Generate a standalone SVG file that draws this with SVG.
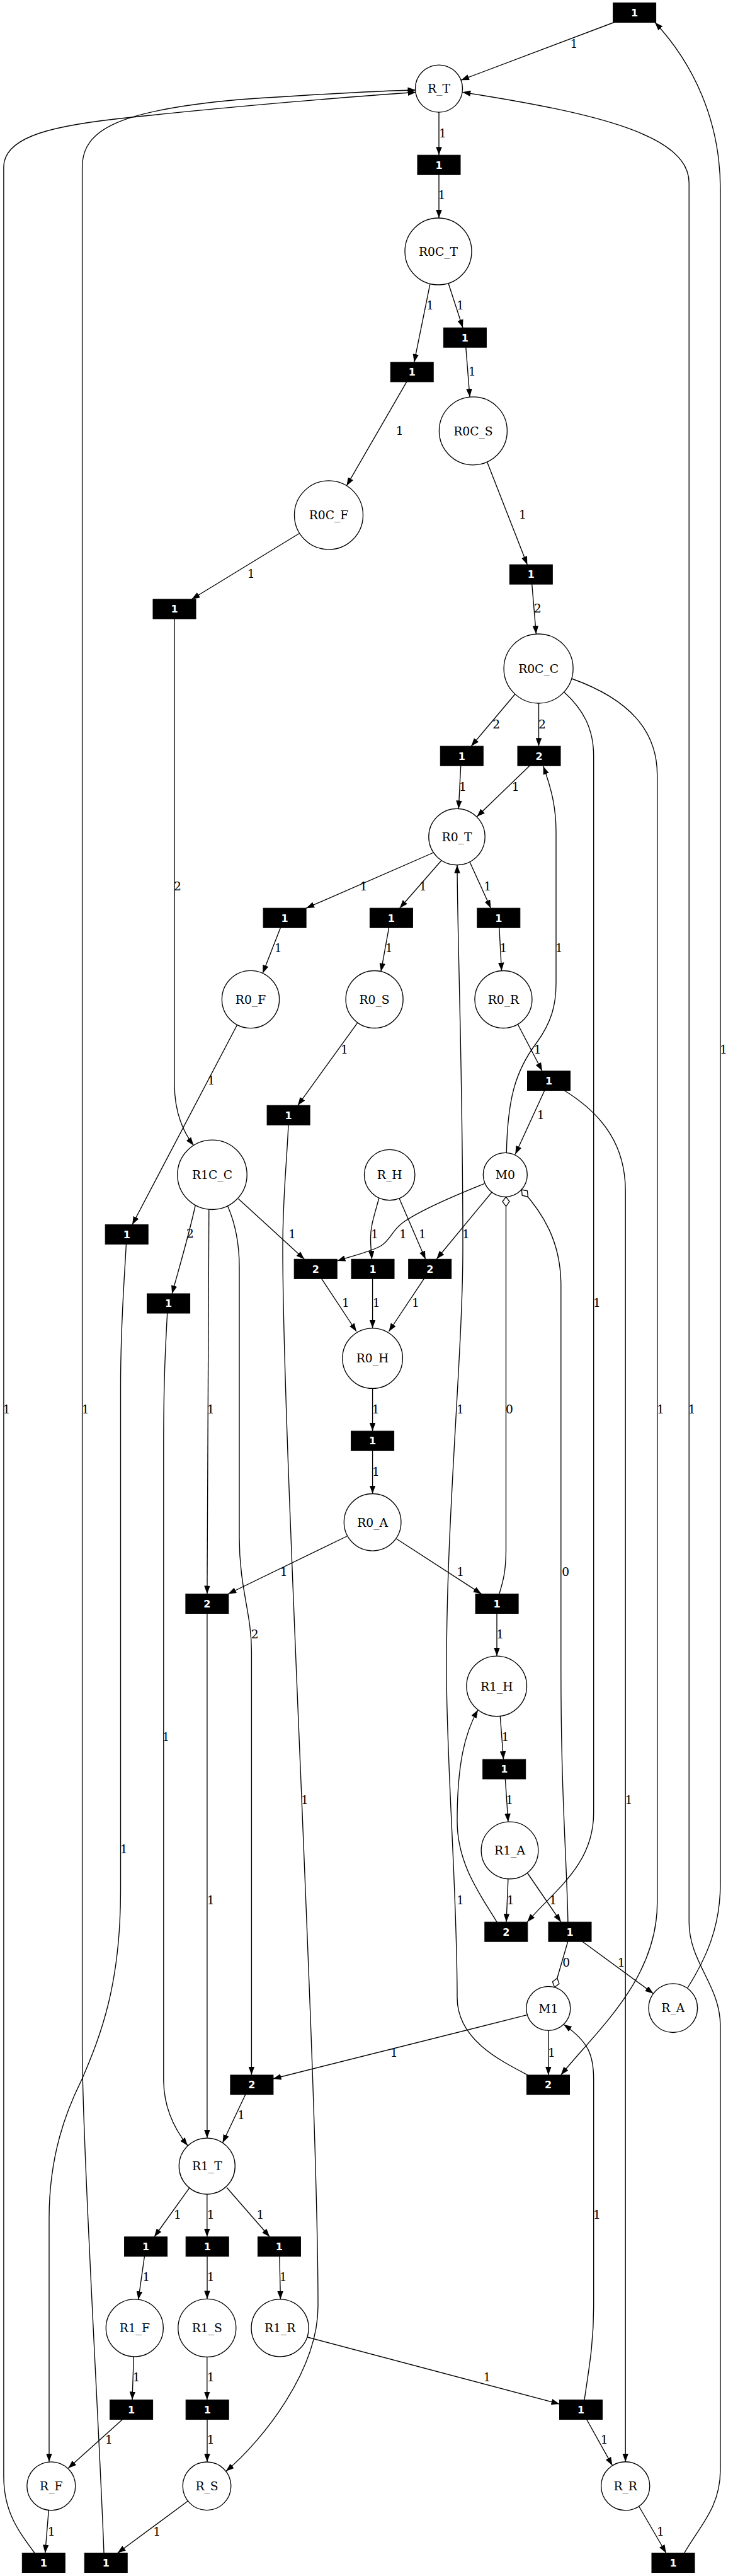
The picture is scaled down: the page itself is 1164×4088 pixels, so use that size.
<svg xmlns="http://www.w3.org/2000/svg" width="1164" height="4088" viewBox="0 0 1164 4088">
<style>
.e{fill:none;stroke:#000;stroke-width:1.35;marker-end:url(#ah)}
.i{fill:none;stroke:#000;stroke-width:1.35;marker-start:url(#dm)}
.p circle{fill:#fff;stroke:#000;stroke-width:1.35}
.p text{font-family:"DejaVu Serif","Liberation Serif",serif;font-size:18.7px;text-anchor:middle;fill:#000}
.t rect{fill:#000;stroke:#000;stroke-width:1}
.t text{font-family:"DejaVu Sans","Liberation Sans",sans-serif;font-weight:bold;font-size:16px;fill:#fff;text-anchor:middle}
.l{font-family:"DejaVu Serif","Liberation Serif",serif;font-size:18.7px;text-anchor:middle;fill:#000}
</style>
<defs>
<marker id="ah" viewBox="0 0 13 9.5" refX="13" refY="4.75" markerWidth="13" markerHeight="9.5" orient="auto" markerUnits="userSpaceOnUse"><path d="M0,0 L13,4.75 L0,9.5 z" fill="#000"/></marker>
<marker id="dm" viewBox="-1 -1 17 13" refX="0" refY="5.5" markerWidth="17" markerHeight="13" orient="auto" markerUnits="userSpaceOnUse"><path d="M0,5.5 L7.5,0 L15,5.5 L7.5,11 z" fill="#fff" stroke="#000" stroke-width="1.3"/></marker>
</defs>
<rect width="1164" height="4088" fill="#fff"/>
<g id="connectors">
<path class="e" d="M975,35.5 L732,127.2"/>
<path class="e" d="M697,178.1 L697,246.2"/>
<path class="e" d="M697,277.2 L697,346"/>
<path class="e" d="M712,449.5 L735,520.2"/>
<path class="e" d="M683,450.3 L657.7,574.9"/>
<path class="e" d="M739.8,551.2 L746,630"/>
<path class="e" d="M645.8,605.9 L550.4,770.9"/>
<path class="e" d="M475.3,846.5 L304.3,951"/>
<path class="e" d="M773.5,733 L837.3,896.1"/>
<path class="e" d="M844.7,927.1 L851.4,1006.1"/>
<path class="e" d="M818,1101.5 L748.2,1184.2"/>
<path class="e" d="M855.5,1116 L855.5,1184.2"/>
<path class="e" d="M896,1098.5 C925,1125 942.7,1155 942.7,1200 L942.7,2877 C942.7,2960 880,3000 837.3,3050.2"/>
<path class="e" d="M908,1077 C1000,1110 1043.7,1160 1043.7,1230 L1043.7,3020 C1043.7,3140 950,3220 890.8,3292.8"/>
<path class="e" d="M731.7,1215.2 L728.3,1283.4"/>
<path class="e" d="M841,1215.2 L757.3,1296"/>
<path class="e" d="M804.3,1829.3 C806,1745 818,1700 852,1655 C876,1622 883,1595 883,1560 L883,1320 C883,1280 875,1250 862.7,1216"/>
<path class="e" d="M838,3293 C790,3268 726,3235 726,3170 C726,3000 709,2800 709,2650 C709,2400 735,2150 735,1980 C735,1700 726.5,1500 726,1372.7"/>
<path class="e" d="M789,3050.2 C765,3010 726,2960 726,2890 C726,2800 738,2750 759,2713.5"/>
<path class="e" d="M870.8,3222.3 L870.8,3292.9"/>
<path class="e" d="M769.3,1878.3 C720,1898 665,1922 640,1940 C622,1953 620,1968 605,1977 C590,1986 560,1993 535.5,2001"/>
<path class="e" d="M781,1892 L693.3,1998"/>
<path class="e" d="M378.6,1902.6 L483.3,1998.3"/>
<path class="e" d="M601.7,1902 C594,1930 588.5,1945 588.5,1965 C588.5,1980 590,1990 590.5,1998.3"/>
<path class="e" d="M634,1901.7 L675.7,1998.3"/>
<path class="e" d="M310.3,1912.5 C300,1960 285,2010 273.2,2053"/>
<path class="e" d="M331.8,1919.3 L328.9,2529.5"/>
<path class="e" d="M361.5,1913.8 C375,1945 380,1975 380,2010 L380,2440 C380,2520 399.4,2560 399.4,2620 L399.4,3292.8"/>
<path class="e" d="M277,982 L277,1720 C277,1765 290,1795 307.4,1817.7"/>
<path class="e" d="M688.5,1353 L486.2,1441.2"/>
<path class="e" d="M701,1365.5 L634.7,1441.2"/>
<path class="e" d="M746,1368 L779.4,1441.2"/>
<path class="e" d="M445.4,1472.2 L417.2,1544.6"/>
<path class="e" d="M617.6,1472.2 L605,1541.7"/>
<path class="e" d="M792.8,1472.2 L796.5,1540.6"/>
<path class="e" d="M376.7,1626.3 L210,1943.5"/>
<path class="e" d="M567.9,1622.8 L472.8,1754.3"/>
<path class="e" d="M822.5,1626 L861,1699.5"/>
<path class="e" d="M864.8,1730.5 L818.3,1831.7"/>
<path class="e" d="M896,1730.5 C960,1770 993.2,1820 993.2,1890 L993.2,3906.7"/>
<path class="e" d="M458,1785.3 C455,1850 449,1900 449,1980 C449,2300 505,3300 505,3660 C505,3760 420,3870 358.8,3921.8"/>
<path class="i" d="M803.5,1899.3 L803.5,2460 C803.5,2495 798,2512 792.8,2529.5"/>
<path class="i" d="M828.3,1888 C862,1925 890.8,1970 890.8,2040 L890.8,2650 C890.8,2850 900,2950 901.9,3050.2"/>
<path class="e" d="M510.7,2029.3 L566,2113"/>
<path class="e" d="M591.6,2029.3 L591.6,2107.8"/>
<path class="e" d="M673.3,2029.3 L617.5,2113"/>
<path class="e" d="M591.6,2203.4 L591.6,2271.1"/>
<path class="e" d="M591.6,2302.1 L591.6,2370.5"/>
<path class="e" d="M550.8,2438 L362.2,2529.5"/>
<path class="e" d="M629.5,2442 L764.6,2529.5"/>
<path class="e" d="M328.9,2560.5 L328.9,3393.1"/>
<path class="e" d="M789,2560.5 L789,2628.1"/>
<path class="e" d="M794.3,2723.4 L799.5,2792.1"/>
<path class="e" d="M802.4,2823.1 L806.9,2891.2"/>
<path class="e" d="M806.9,2981.6 L804,3050.2"/>
<path class="e" d="M837.3,2972 L890.8,3050.2"/>
<path class="i" d="M880.6,3153.7 L901.7,3081.2"/>
<path class="e" d="M925,3081.2 L1037.5,3163.7"/>
<path class="e" d="M836.7,3197.7 L433.5,3299"/>
<path class="e" d="M928,3808.5 C935,3760 942.7,3720 942.7,3660 L942.7,3300 C942.7,3262 935,3240 895,3212.7"/>
<path class="e" d="M1091.7,3155 C1120,3110 1143.9,3060 1143.9,2990 L1143.9,300 C1143.9,190 1100,100 1040,35.5"/>
<path class="e" d="M1086.7,4051.5 C1110,4010 1143.9,3980 1143.9,3920 L1143.9,3215 C1143.9,3150 1094.2,3115 1094.2,3050 L1094.2,290 C1094.2,215 950,180 734.3,146.3"/>
<path class="e" d="M55,4051.5 C28,4015 5.9,3985 5.9,3930 L5.9,265 C5.9,215 90,198 210,186 C380,168 560,153 660.5,146.5"/>
<path class="e" d="M165,4051.5 C160,3900 130.6,3400 130.6,3250 L130.6,265 C130.6,205 190,175 380,158 C500,150 600,144 660.5,143"/>
<path class="e" d="M200.4,1974.5 C197,2040 191.5,2100 191.5,2200 L191.5,3000 C191.5,3150 160,3230 130,3300 C105,3350 78,3420 78,3520 L78,3906.8"/>
<path class="e" d="M265.7,2084 C262,2150 259.8,2200 259.8,2300 L259.8,3300 C259.8,3345 278,3380 298,3405"/>
<path class="e" d="M389.7,3324 L353.5,3400.5"/>
<path class="e" d="M300.6,3472.3 L245,3549.8"/>
<path class="e" d="M328.8,3482.1 L328.8,3549.8"/>
<path class="e" d="M360,3471.5 L428.3,3549.8"/>
<path class="e" d="M229.4,3580.8 L219.7,3649.3"/>
<path class="e" d="M329,3580.8 L329,3648.4"/>
<path class="e" d="M443.9,3580.8 L445.4,3648.9"/>
<path class="e" d="M212.3,3739.9 L210,3808.5"/>
<path class="e" d="M328.8,3740.4 L328.8,3808.5"/>
<path class="e" d="M488.3,3709 L888.5,3815"/>
<path class="e" d="M194.5,3839.5 L108.3,3917"/>
<path class="e" d="M329,3839.5 L329,3907"/>
<path class="e" d="M931.6,3839.5 L972.4,3912.6"/>
<path class="e" d="M77.3,3983.6 L71.7,4051.5"/>
<path class="e" d="M298.4,3969 L186.7,4051.5"/>
<path class="e" d="M1014.7,3977.5 L1057.8,4051.5"/>
<text class="l" x="911.5" y="76">1</text>
<text class="l" x="703" y="217.5">1</text>
<text class="l" x="701.5" y="316.2">1</text>
<text class="l" x="731" y="491.3">1</text>
<text class="l" x="683" y="491.3">1</text>
<text class="l" x="749.7" y="595.8">1</text>
<text class="l" x="634.7" y="689.8">1</text>
<text class="l" x="398.6" y="917">1</text>
<text class="l" x="829.9" y="823.3">1</text>
<text class="l" x="853.6" y="972">2</text>
<text class="l" x="788.3" y="1155.8">2</text>
<text class="l" x="861" y="1155.8">2</text>
<text class="l" x="948" y="2074.2">1</text>
<text class="l" x="1049" y="2242.5">1</text>
<text class="l" x="735" y="1255">1</text>
<text class="l" x="818.8" y="1254.8">1</text>
<text class="l" x="887.8" y="1511.3">1</text>
<text class="l" x="731" y="2242.5">1</text>
<text class="l" x="731" y="3021.8">1</text>
<text class="l" x="876" y="3264.3">1</text>
<text class="l" x="640" y="1964.8">1</text>
<text class="l" x="740" y="1964.8">1</text>
<text class="l" x="464" y="1964.8">1</text>
<text class="l" x="595" y="1964.8">1</text>
<text class="l" x="670.7" y="1964.8">1</text>
<text class="l" x="302" y="1964.4">2</text>
<text class="l" x="334.8" y="2242.5">1</text>
<text class="l" x="404.6" y="2599.8">2</text>
<text class="l" x="282" y="1412.8">2</text>
<text class="l" x="577.5" y="1413.1">1</text>
<text class="l" x="671.8" y="1413.1">1</text>
<text class="l" x="774.2" y="1413.1">1</text>
<text class="l" x="441.7" y="1511.3">1</text>
<text class="l" x="617.6" y="1511.3">1</text>
<text class="l" x="799.5" y="1511.3">1</text>
<text class="l" x="335.5" y="1721.1">1</text>
<text class="l" x="547" y="1671.8">1</text>
<text class="l" x="853.6" y="1671.8">1</text>
<text class="l" x="858.8" y="1775.8">1</text>
<text class="l" x="998.4" y="2862.8">1</text>
<text class="l" x="484" y="2862.8">1</text>
<text class="l" x="809" y="2242.5">0</text>
<text class="l" x="898.2" y="2501.4">0</text>
<text class="l" x="549" y="2073.5">1</text>
<text class="l" x="597.7" y="2073.5">1</text>
<text class="l" x="660" y="2073.5">1</text>
<text class="l" x="596.8" y="2242.5">1</text>
<text class="l" x="597" y="2341.6">1</text>
<text class="l" x="450.6" y="2501.4">1</text>
<text class="l" x="731.2" y="2501.4">1</text>
<text class="l" x="334.8" y="3021.8">1</text>
<text class="l" x="794.3" y="2599.8">1</text>
<text class="l" x="802.4" y="2763">1</text>
<text class="l" x="809.1" y="2862.6">1</text>
<text class="l" x="810.6" y="3021.8">1</text>
<text class="l" x="878.2" y="3021.8">1</text>
<text class="l" x="899.3" y="3120.8">0</text>
<text class="l" x="986.7" y="3120.8">1</text>
<text class="l" x="625.8" y="3264.3">1</text>
<text class="l" x="948" y="3521.3">1</text>
<text class="l" x="1149" y="1671.8">1</text>
<text class="l" x="1098.6" y="2242.5">1</text>
<text class="l" x="10.4" y="2242.5">1</text>
<text class="l" x="135.8" y="2242.5">1</text>
<text class="l" x="196.7" y="2940.8">1</text>
<text class="l" x="263.5" y="2762.8">1</text>
<text class="l" x="383" y="3362.6">1</text>
<text class="l" x="282" y="3521.3">1</text>
<text class="l" x="334.8" y="3521.3">1</text>
<text class="l" x="413.5" y="3521.3">1</text>
<text class="l" x="232.3" y="3620.2">1</text>
<text class="l" x="334.8" y="3620.2">1</text>
<text class="l" x="449.8" y="3620.2">1</text>
<text class="l" x="216.8" y="3778.8">1</text>
<text class="l" x="334.8" y="3778.8">1</text>
<text class="l" x="773.5" y="3778.8">1</text>
<text class="l" x="173" y="3878.3">1</text>
<text class="l" x="334.8" y="3878.3">1</text>
<text class="l" x="959.8" y="3878.3">1</text>
<text class="l" x="81.7" y="4023.5">1</text>
<text class="l" x="249.3" y="4023.5">1</text>
<text class="l" x="1048.9" y="4023.5">1</text>
</g>
<g id="places">
<g id="R_T" class="p"><circle cx="697" cy="140.6" r="37.5"/><text x="697" y="147.3">R_T</text></g>
<g id="R0C_T" class="p"><circle cx="696" cy="399" r="53"/><text x="696" y="405.7">R0C_T</text></g>
<g id="R0C_S" class="p"><circle cx="751.4" cy="683.8" r="54"/><text x="751.4" y="690.5">R0C_S</text></g>
<g id="R0C_F" class="p"><circle cx="522" cy="817.4" r="54.5"/><text x="522" y="824.1">R0C_F</text></g>
<g id="R0C_C" class="p"><circle cx="855.1" cy="1061" r="55"/><text x="855.1" y="1067.7">R0C_C</text></g>
<g id="R0_T" class="p"><circle cx="725.5" cy="1328" r="44.7"/><text x="725.5" y="1334.7">R0_T</text></g>
<g id="R0_F" class="p"><circle cx="398" cy="1586" r="45.6"/><text x="398" y="1592.7">R0_F</text></g>
<g id="R0_S" class="p"><circle cx="594.6" cy="1586" r="45.5"/><text x="594.6" y="1592.7">R0_S</text></g>
<g id="R0_R" class="p"><circle cx="799.4" cy="1586" r="45.5"/><text x="799.4" y="1592.7">R0_R</text></g>
<g id="R1C_C" class="p"><circle cx="337" cy="1864.3" r="55.2"/><text x="337" y="1871">R1C_C</text></g>
<g id="R_H" class="p"><circle cx="618.7" cy="1864.5" r="40.2"/><text x="618.7" y="1871.2">R_H</text></g>
<g id="M0" class="p"><circle cx="802.3" cy="1864.3" r="35"/><text x="802.3" y="1871">M0</text></g>
<g id="R0_H" class="p"><circle cx="591.6" cy="2155.6" r="47.8"/><text x="591.6" y="2162.3">R0_H</text></g>
<g id="R0_A" class="p"><circle cx="591.6" cy="2415.8" r="45.3"/><text x="591.6" y="2422.5">R0_A</text></g>
<g id="R1_H" class="p"><circle cx="788.7" cy="2675.9" r="47.8"/><text x="788.7" y="2682.6">R1_H</text></g>
<g id="R1_A" class="p"><circle cx="809.5" cy="2936.4" r="45.3"/><text x="809.5" y="2943.1">R1_A</text></g>
<g id="M1" class="p"><circle cx="870.8" cy="3187.3" r="35"/><text x="870.8" y="3194">M1</text></g>
<g id="R_A" class="p"><circle cx="1068.8" cy="3186.7" r="38.8"/><text x="1068.8" y="3193.4">R_A</text></g>
<g id="R1_T" class="p"><circle cx="328.8" cy="3437.6" r="44.5"/><text x="328.8" y="3444.3">R1_T</text></g>
<g id="R1_F" class="p"><circle cx="213.8" cy="3694.4" r="45.5"/><text x="213.8" y="3701.1">R1_F</text></g>
<g id="R1_S" class="p"><circle cx="328.8" cy="3694.4" r="46"/><text x="328.8" y="3701.1">R1_S</text></g>
<g id="R1_R" class="p"><circle cx="444.6" cy="3694.4" r="45.5"/><text x="444.6" y="3701.1">R1_R</text></g>
<g id="R_F" class="p"><circle cx="81.3" cy="3945.3" r="38.5"/><text x="81.3" y="3952">R_F</text></g>
<g id="R_S" class="p"><circle cx="328.5" cy="3945.3" r="38.3"/><text x="328.5" y="3952">R_S</text></g>
<g id="R_R" class="p"><circle cx="993.2" cy="3945.3" r="38.6"/><text x="993.2" y="3952">R_R</text></g>
</g>
<g id="transitions">
<g id="t0" class="t"><rect x="973.6" y="4.5" width="68" height="31"/><text x="1007.6" y="25.8">1</text></g>
<g id="t1" class="t"><rect x="663" y="246.2" width="68" height="31"/><text x="697" y="267.5">1</text></g>
<g id="t2" class="t"><rect x="704.4" y="520.2" width="68" height="31"/><text x="738.4" y="541.5">1</text></g>
<g id="t3" class="t"><rect x="620.2" y="574.9" width="68" height="31"/><text x="654.2" y="596.2">1</text></g>
<g id="t4" class="t"><rect x="243" y="951" width="68" height="31"/><text x="277" y="972.3">1</text></g>
<g id="t5" class="t"><rect x="809.3" y="896.1" width="68" height="31"/><text x="843.3" y="917.4">1</text></g>
<g id="t6" class="t"><rect x="699.3" y="1184.2" width="68" height="31"/><text x="733.3" y="1205.5">1</text></g>
<g id="t7" class="t"><rect x="822" y="1184.2" width="68" height="31"/><text x="856" y="1205.5">2</text></g>
<g id="t8" class="t"><rect x="418.1" y="1441.2" width="68" height="31"/><text x="452.1" y="1462.5">1</text></g>
<g id="t9" class="t"><rect x="587.4" y="1441.2" width="68" height="31"/><text x="621.4" y="1462.5">1</text></g>
<g id="t10" class="t"><rect x="757.8" y="1441.2" width="68" height="31"/><text x="791.8" y="1462.5">1</text></g>
<g id="t11" class="t"><rect x="837.5" y="1699.5" width="68" height="31"/><text x="871.5" y="1720.8">1</text></g>
<g id="t12" class="t"><rect x="424.1" y="1754.3" width="68" height="31"/><text x="458.1" y="1775.6">1</text></g>
<g id="t13" class="t"><rect x="167.2" y="1943.5" width="68" height="31"/><text x="201.2" y="1964.8">1</text></g>
<g id="t14" class="t"><rect x="467.2" y="1998.3" width="68" height="31"/><text x="501.2" y="2019.6">2</text></g>
<g id="t15" class="t"><rect x="558" y="1998.3" width="68" height="31"/><text x="592" y="2019.6">1</text></g>
<g id="t16" class="t"><rect x="648.7" y="1998.3" width="68" height="31"/><text x="682.7" y="2019.6">2</text></g>
<g id="t17" class="t"><rect x="233.6" y="2053" width="68" height="31"/><text x="267.6" y="2074.3">1</text></g>
<g id="t18" class="t"><rect x="557.6" y="2271.1" width="68" height="31"/><text x="591.6" y="2292.4">1</text></g>
<g id="t19" class="t"><rect x="294.9" y="2529.5" width="68" height="31"/><text x="328.9" y="2550.8">2</text></g>
<g id="t20" class="t"><rect x="755.1" y="2529.5" width="68" height="31"/><text x="789.1" y="2550.8">1</text></g>
<g id="t21" class="t"><rect x="766.7" y="2792.1" width="68" height="31"/><text x="800.7" y="2813.4">1</text></g>
<g id="t22" class="t"><rect x="769.8" y="3050.2" width="68" height="31"/><text x="803.8" y="3071.5">2</text></g>
<g id="t23" class="t"><rect x="871" y="3050.2" width="68" height="31"/><text x="905" y="3071.5">1</text></g>
<g id="t24" class="t"><rect x="365.9" y="3293" width="68" height="31"/><text x="399.9" y="3314.3">2</text></g>
<g id="t25" class="t"><rect x="836.5" y="3293" width="68" height="31"/><text x="870.5" y="3314.3">2</text></g>
<g id="t26" class="t"><rect x="197.6" y="3549.8" width="68" height="31"/><text x="231.6" y="3571.1">1</text></g>
<g id="t27" class="t"><rect x="295.2" y="3549.8" width="68" height="31"/><text x="329.2" y="3571.1">1</text></g>
<g id="t28" class="t"><rect x="409.4" y="3549.8" width="68" height="31"/><text x="443.4" y="3571.1">1</text></g>
<g id="t29" class="t"><rect x="174.6" y="3808.5" width="68" height="31"/><text x="208.6" y="3829.8">1</text></g>
<g id="t30" class="t"><rect x="295.2" y="3808.5" width="68" height="31"/><text x="329.2" y="3829.8">1</text></g>
<g id="t31" class="t"><rect x="888.5" y="3808.5" width="68" height="31"/><text x="922.5" y="3829.8">1</text></g>
<g id="t32" class="t"><rect x="35.3" y="4051.5" width="68" height="31"/><text x="69.3" y="4072.8">1</text></g>
<g id="t33" class="t"><rect x="134.2" y="4051.5" width="68" height="31"/><text x="168.2" y="4072.8">1</text></g>
<g id="t34" class="t"><rect x="1035" y="4051.5" width="68" height="31"/><text x="1069" y="4072.8">1</text></g>
</g>
</svg>
